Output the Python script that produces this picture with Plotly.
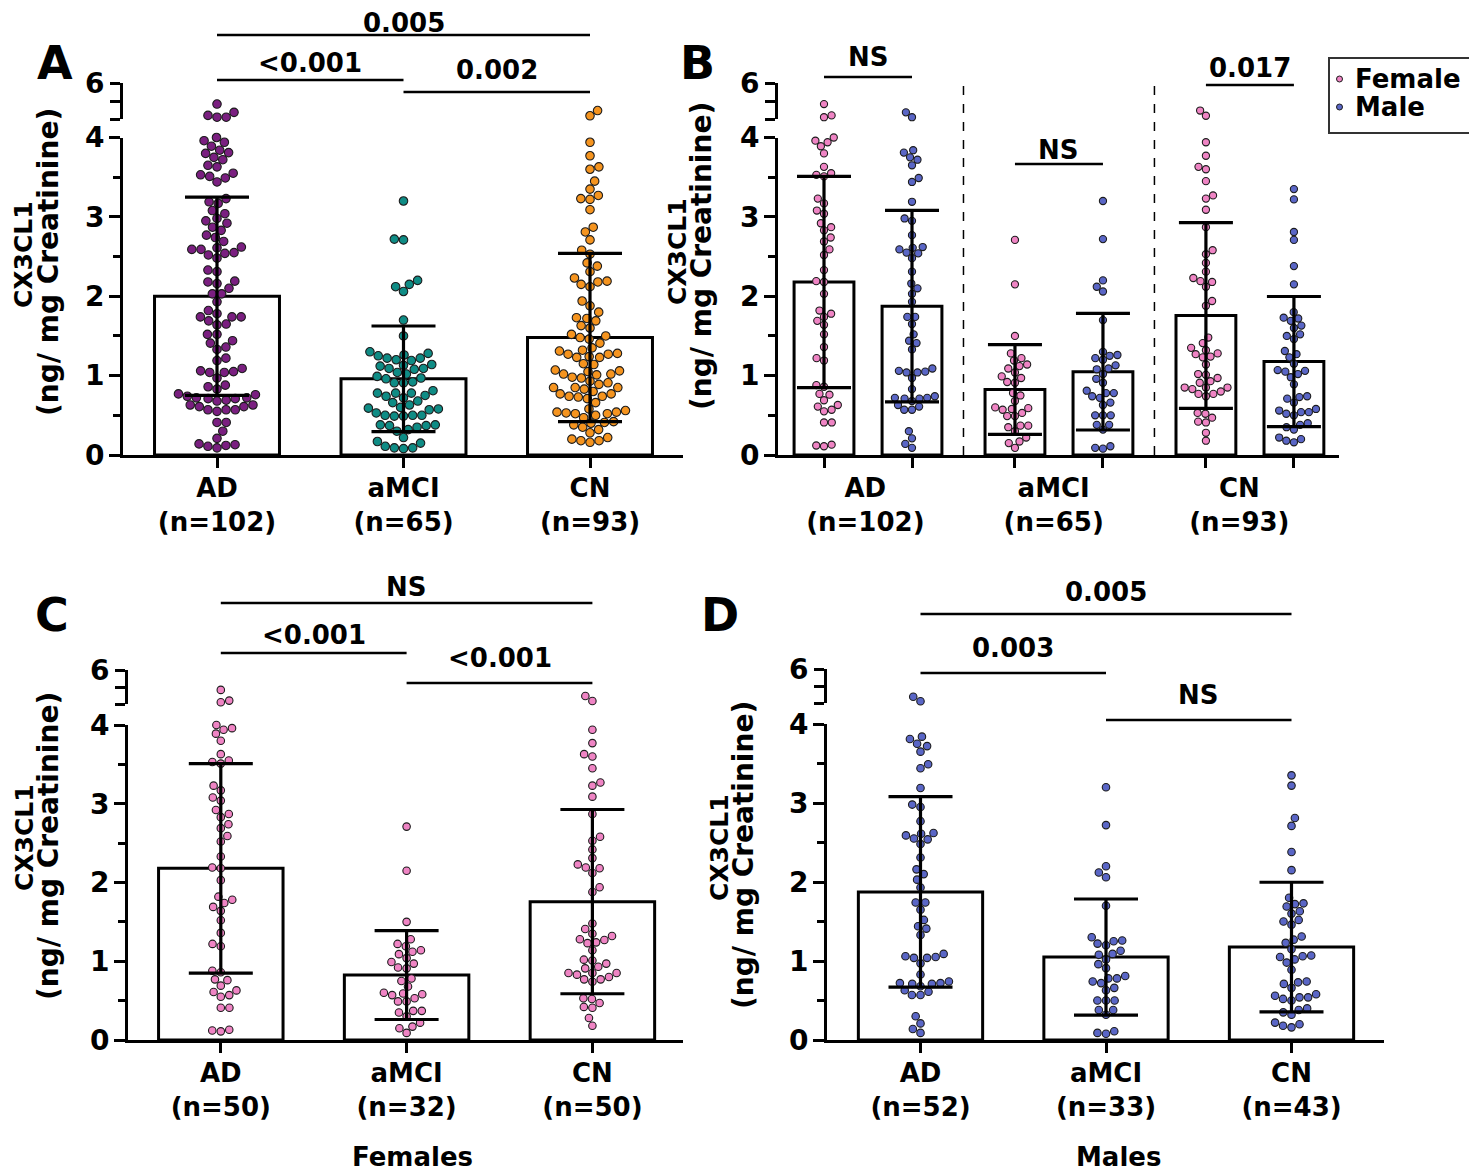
import numpy as np
import plotly.graph_objects as go

W, H = 1477, 1172
PAGE_OFF = 8  # the page body margin moves the figure 8 px right and down

# ---- data (ng/mg creatinine) ----
groups = ["AD", "aMCI", "CN"]
n_all = [102, 65, 93]
n_female = [50, 32, 50]
n_male = [52, 33, 43]

female_ad = [4.83, 4.10, 4.20, 3.96, 4.00, 3.94, 3.89, 3.80, 3.63, 3.53, 3.51, 3.55,
             3.23, 3.17, 3.08, 3.04, 2.92, 2.87, 2.83, 2.74, 2.69, 2.59, 2.52, 2.33,
             2.18, 2.19, 2.03, 1.78, 1.82, 1.69, 1.64, 1.74, 1.52, 1.36, 1.22, 1.19,
             0.86, 0.88, 0.76, 0.77, 0.69, 0.61, 0.55, 0.57, 0.63, 0.41, 0.41, 0.13,
             0.11, 0.12]
female_amci = [2.71, 2.15, 1.50, 1.28, 1.22, 1.19, 1.12, 1.09, 1.14, 1.04, 0.99, 0.92,
               0.91, 0.97, 0.78, 0.75, 0.68, 0.59, 0.57, 0.53, 0.58, 0.60, 0.49, 0.49,
               0.37, 0.37, 0.35, 0.30, 0.22, 0.17, 0.15, 0.09]
female_cn = [4.47, 4.18, 3.94, 3.77, 3.60, 3.63, 3.45, 3.23, 3.27, 3.09, 2.87, 2.58,
             2.53, 2.42, 2.31, 2.23, 2.18, 2.12, 2.19, 1.94, 1.88, 1.48, 1.41, 1.27,
             1.23, 1.32, 1.24, 1.35, 1.28, 1.14, 1.02, 0.97, 0.91, 0.85, 0.83, 0.77,
             0.85, 0.74, 0.93, 0.77, 1.01, 0.80, 0.85, 0.53, 0.42, 0.41, 0.47, 0.52,
             0.28, 0.18]
male_ad = [4.37, 4.10, 3.81, 3.84, 3.72, 3.75, 3.65, 3.44, 3.49, 3.19, 2.95, 2.98,
           2.77, 2.59, 2.61, 2.54, 2.62, 2.55, 2.48, 2.31, 2.16, 2.10, 2.03, 1.93,
           1.74, 1.74, 1.65, 1.52, 1.41, 1.44, 1.33, 1.06, 1.04, 0.97, 1.04, 1.05,
           1.09, 0.83, 0.68, 0.72, 0.71, 0.71, 0.72, 0.74, 0.61, 0.57, 0.57, 0.63,
           0.30, 0.21, 0.14, 0.09]
male_amci = [3.20, 2.72, 2.20, 2.12, 2.06, 1.70, 1.30, 1.22, 1.25, 1.13, 1.26, 1.08,
             0.96, 0.91, 0.81, 0.74, 0.78, 0.66, 0.63, 0.50, 0.50, 0.50, 0.38, 0.32,
             0.38, 0.11, 0.08, 0.09, 1.20, 1.09, 0.78, 1.02, 0.72]
male_cn = [3.35, 3.22, 2.71, 2.81, 2.38, 2.15, 1.80, 1.73, 1.72, 1.69, 1.60, 1.63,
           1.50, 1.46, 1.52, 1.31, 1.27, 1.23, 1.15, 1.07, 1.05, 1.02, 1.06, 0.98,
           0.89, 0.74, 0.71, 0.66, 0.73, 0.56, 0.54, 0.50, 0.52, 0.54, 0.58, 0.40,
           0.35, 0.38, 0.32, 0.20, 0.16, 0.18, 0.22]

# bar heights (mean) and error bars (SD)
mean_all = [2.00, 0.96, 1.48]
sd_all = [1.25, 0.665, 1.06]
mean_female = [2.18, 0.825, 1.757]
sd_female = [1.33, 0.565, 1.17]
mean_male = [1.875, 1.05, 1.177]
sd_male = [1.206, 0.735, 0.82]

p_A = [("0.005", 0, 2), ("<0.001", 0, 1), ("0.002", 1, 2)]
p_B = [("NS", 0, 1), ("NS", 2, 3), ("0.017", 4, 5)]
p_C = [("NS", 0, 2), ("<0.001", 0, 1), ("<0.001", 1, 2)]
p_D = [("0.005", 0, 2), ("0.003", 0, 1), ("NS", 1, 2)]

c_ad, c_amci, c_cn = "#7a1f80", "#0f8c85", "#f5941f"
c_fem, c_mal = "#ef84c4", "#5a66c6"

FONT = "DejaVu Sans"


def px(x):
    return (x - PAGE_OFF) / W


def py(y):
    return 1 - (y - PAGE_OFF) / H


# panel geometry in pixels
panels = {
    "A": dict(xa="x", ylo="y", yup="y2", xdom=(123, 683), c0=217, unit=186.5,
              y0=455, y4=137.5, y4u=119, y6=83),
    "B": dict(xa="x2", ylo="y3", yup="y4", xdom=(778, 1339), c0=824, unit=88,
              y0=455, y4=137.5, y4u=119, y6=83),
    "C": dict(xa="x3", ylo="y5", yup="y6", xdom=(128, 683), c0=220.8, unit=185.8,
              y0=1040, y4=725, y4u=704, y6=670),
    "D": dict(xa="x4", ylo="y7", yup="y8", xdom=(827, 1384), c0=920.5, unit=185.5,
              y0=1040, y4=724, y4u=703, y6=669),
}


def to_px(v, g):
    # vertical pixel height above the x axis, honouring the axis break
    if v <= 4:
        return v * (g["y0"] - g["y4"]) / 4
    return (g["y0"] - g["y4u"]) + (v - 4) * (g["y4u"] - g["y6"]) / 2


def swarm(vals, g, d):
    ys = [to_px(v, g) for v in vals]
    order = np.argsort(ys, kind="stable")
    placed = []
    xs = [0.0] * len(vals)
    for k, i in enumerate(order):
        y = ys[i]
        cands = [0.0]
        for xj, yj in placed:
            dy = abs(y - yj)
            if dy < d:
                dx = np.sqrt(d * d - dy * dy)
                cands += [xj + dx, xj - dx]
        sgn = 1 if k % 2 else -1
        cands.sort(key=lambda c: (round(abs(c), 3), sgn * c))
        for c in cands:
            if all((c - xj) ** 2 + (y - yj) ** 2 >= d * d - 1e-6 for xj, yj in placed):
                xs[i] = c
                break
        placed.append((xs[i], y))
    return np.array(xs)


fig = go.Figure()


def add_group(p, pos, vals, color, mean, sd, bw, cap, msize, d, name=None):
    g = panels[p]
    vals = np.array(vals)
    fig.add_trace(go.Bar(x=[pos], y=[mean], width=bw, xaxis=g["xa"], yaxis=g["ylo"],
                         marker=dict(color="white", line=dict(color="black", width=3)),
                         showlegend=False, hoverinfo="skip"))
    off = swarm(vals, g, d) / g["unit"]
    lo = vals <= 4
    mk = dict(size=msize, color=color, line=dict(color="#1c1c1c", width=1.1))
    fig.add_trace(go.Scatter(x=pos + off[lo], y=vals[lo], mode="markers", marker=mk,
                             xaxis=g["xa"], yaxis=g["ylo"], cliponaxis=False,
                             showlegend=False, name=name))
    fig.add_trace(go.Scatter(x=pos + off[~lo], y=vals[~lo], mode="markers", marker=mk,
                             xaxis=g["xa"], yaxis=g["yup"], cliponaxis=False,
                             showlegend=False, name=name))
    fig.add_trace(go.Scatter(x=[pos], y=[mean], mode="markers",
                             marker=dict(size=1, color="rgba(0,0,0,0)"),
                             error_y=dict(type="data", array=[sd], color="black",
                                          thickness=3.2, width=cap),
                             xaxis=g["xa"], yaxis=g["ylo"], cliponaxis=False,
                             showlegend=False, hoverinfo="skip"))


# panel A: all subjects
all_vals = [female_ad + male_ad, female_amci + male_amci, female_cn + male_cn]
for i, (vals, col) in enumerate(zip(all_vals, [c_ad, c_amci, c_cn])):
    add_group("A", i, vals, col, mean_all[i], sd_all[i], 0.67, 32, 8.5, 9.2)

# panel B: split by sex
pos_B = [0, 1, 2.17, 3.17, 4.34, 5.34]
label_pos_B = [0.47, 2.61, 4.72]
fem = [female_ad, female_amci, female_cn]
mal = [male_ad, male_amci, male_cn]
for i in range(3):
    add_group("B", pos_B[2 * i], fem[i], c_fem, mean_female[i], sd_female[i], 0.68, 27, 7.2, 7.8)
    add_group("B", pos_B[2 * i + 1], mal[i], c_mal, mean_male[i], sd_male[i], 0.68, 27, 7.2, 7.8)

# panels C and D
for i in range(3):
    add_group("C", i, fem[i], c_fem, mean_female[i], sd_female[i], 0.67, 32, 7.5, 8.6)
    add_group("D", i, mal[i], c_mal, mean_male[i], sd_male[i], 0.67, 32, 7.5, 8.6)

# ---- axes ----
layout = {}
axis_common = dict(showline=True, linewidth=3, linecolor="black", showgrid=False,
                   zeroline=False, ticks="outside", tickwidth=3, tickcolor="black",
                   fixedrange=True, automargin=False)
xlabels = {
    "A": ["%s<br>(n=%d)" % (g, n) for g, n in zip(groups, n_all)],
    "B": ["%s<br>(n=%d)" % (g, n) for g, n in zip(groups, n_all)],
    "C": ["%s<br>(n=%d)" % (g, n) for g, n in zip(groups, n_female)],
    "D": ["%s<br>(n=%d)" % (g, n) for g, n in zip(groups, n_male)],
}
for p, g in panels.items():
    xk = "xaxis" + g["xa"][1:]
    ylk = "yaxis" + g["ylo"][1:]
    yuk = "yaxis" + g["yup"][1:]
    lo = (g["xdom"][0] - g["c0"]) / g["unit"]
    hi = (g["xdom"][1] - g["c0"]) / g["unit"]
    if p == "B":
        centers = label_pos_B
        minor = dict(tickmode="array", tickvals=pos_B, ticks="outside", ticklen=10,
                     tickwidth=3, tickcolor="black")
    else:
        centers = [0, 1, 2]
        minor = dict(tickmode="array", tickvals=[0, 1, 2], ticks="outside", ticklen=10,
                     tickwidth=3, tickcolor="black")
    layout[xk] = dict(axis_common, domain=[px(g["xdom"][0]), px(g["xdom"][1])],
                      range=[lo, hi], anchor=g["ylo"], tickmode="array",
                      tickvals=centers, ticktext=xlabels[p], ticklen=10,
                      tickcolor="rgba(0,0,0,0)" if p == "B" else "black",
                      minor=minor, tickfont=dict(size=26), ticklabelstandoff=-2)
    layout[ylk] = dict(axis_common, domain=[py(g["y0"]), py(g["y4"])], range=[0, 4],
                       anchor=g["xa"], tickmode="array", tickvals=[0, 1, 2, 3, 4],
                       ticklen=11, tickfont=dict(size=28), ticklabelstandoff=-1,
                       minor=dict(tickmode="array", tickvals=[0.5, 1.5, 2.5, 3.5],
                                  ticks="outside", ticklen=7, tickwidth=2.5,
                                  tickcolor="black"))
    layout[yuk] = dict(axis_common, domain=[py(g["y4u"]), py(g["y6"])], range=[4, 6],
                       anchor=g["xa"], tickmode="array", tickvals=[4, 5, 6],
                       ticktext=["", "", "6"], ticklen=10, tickfont=dict(size=28),
                       ticklabelstandoff=0)

# ---- brackets, labels ----
shapes = []
annotations = []


def bracket(p, positions, items, ys_line, ys_text):
    g = panels[p]
    for (lab, i, j), yl, yt in zip(items, ys_line, ys_text):
        xi = g["c0"] + positions[i] * g["unit"]
        xj = g["c0"] + positions[j] * g["unit"]
        shapes.append(dict(type="line", xref="paper", yref="paper", x0=px(xi), x1=px(xj),
                           y0=py(yl), y1=py(yl), line=dict(color="black", width=2.5)))
        annotations.append(dict(x=px((xi + xj) / 2), y=py(yt), xref="paper", yref="paper",
                                text=lab, showarrow=False, font=dict(size=26),
                                xanchor="center", yanchor="middle"))


bracket("A", [0, 1, 2], p_A, [35, 80, 92], [23, 63, 70])
bracket("B", pos_B, p_B, [77, 164, 85], [57, 150, 68])
bracket("C", [0, 1, 2], p_C, [603, 653, 683], [587, 635, 658])
bracket("D", [0, 1, 2], p_D, [614, 673, 720], [592, 648, 695])

# dashed separators in panel B
for xs in [(pos_B[1] + pos_B[2]) / 2, (pos_B[3] + pos_B[4]) / 2]:
    shapes.append(dict(type="line", xref="x2", yref="paper", x0=xs, x1=xs,
                       y0=py(455), y1=py(83), line=dict(color="black", width=1.5, dash="dash")))

# legend box in panel B
shapes.append(dict(type="rect", xref="paper", yref="paper", x0=px(1329), x1=px(1474),
                   y0=py(133), y1=py(58), line=dict(color="#333333", width=2)))
for yc, col, lab in [(79, c_fem, "Female"), (107, c_mal, "Male")]:
    shapes.append(dict(type="circle", xref="paper", yref="paper", x0=px(1336.5), x1=px(1342.5),
                       y0=py(yc + 3), y1=py(yc - 3), fillcolor=col,
                       line=dict(color="#1c1c1c", width=1)))
    annotations.append(dict(x=px(1353), y=py(yc), xref="paper", yref="paper", text=lab,
                            showarrow=False, font=dict(size=26), xanchor="left",
                            yanchor="middle"))

# y titles (two lines each)
for (x1, y1), (x2, y2) in [((24, 255), (48, 262)), ((677, 252), (701, 256)),
                           ((24, 838), (48, 846)), ((719, 848), (743, 855))]:
    annotations.append(dict(x=px(x1), y=py(y1), xref="paper", yref="paper",
                            text="CX3CL1", textangle=-90, showarrow=False,
                            font=dict(size=25), xanchor="center", yanchor="middle"))
    annotations.append(dict(x=px(x2), y=py(y2), xref="paper", yref="paper",
                            text="(ng/ mg Creatinine)", textangle=-90, showarrow=False,
                            font=dict(size=28), xanchor="center", yanchor="middle"))

# panel letters
for lab, xc, yc in [("A", 55, 63), ("B", 697, 63), ("C", 52, 615), ("D", 720, 615)]:
    annotations.append(dict(x=px(xc), y=py(yc), xref="paper", yref="paper", text=lab,
                            showarrow=False, font=dict(size=46), xanchor="center",
                            yanchor="middle"))

# sex titles under C and D
for lab, xc in [("Females", 412), ("Males", 1118)]:
    annotations.append(dict(x=px(xc), y=py(1157), xref="paper", yref="paper", text=lab,
                            showarrow=False, font=dict(size=26), xanchor="center",
                            yanchor="middle"))

fig.update_layout(
    width=W, height=H, margin=dict(l=0, r=0, t=0, b=0, autoexpand=False),
    paper_bgcolor="white", plot_bgcolor="white",
    font=dict(family=FONT, size=26, color="black", weight="bold"),
    showlegend=False, shapes=shapes, annotations=annotations, **layout,
)

fig.write_html("out.html")
